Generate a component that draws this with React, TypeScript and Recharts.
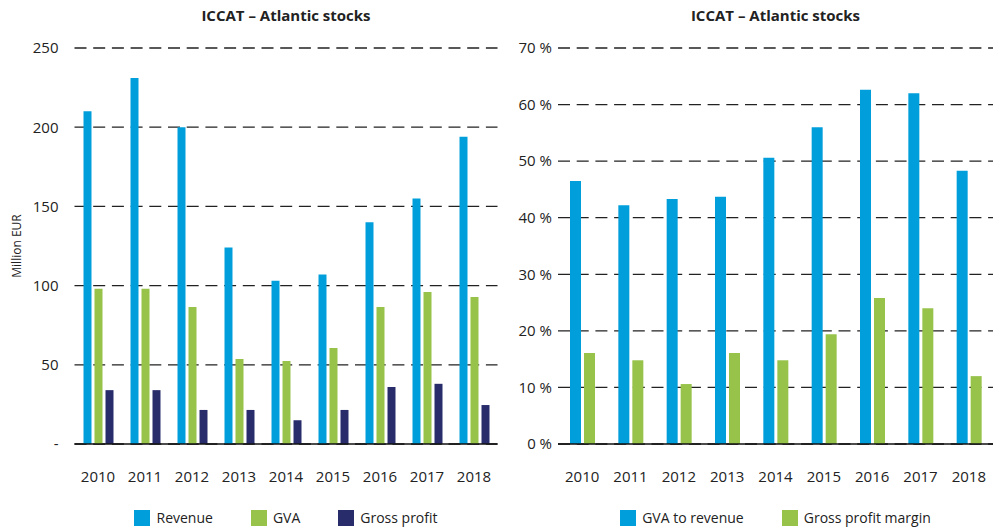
import React from "react";
import { Bar, BarChart, CartesianGrid, XAxis, YAxis } from "recharts";

const years = ["2010", "2011", "2012", "2013", "2014", "2015", "2016", "2017", "2018"];
const revenue = [210, 231, 200, 124, 103, 107, 140, 155, 194];
const gva = [98, 98, 86.5, 53.7, 52.4, 60.6, 86.5, 96, 92.8];
const grossProfit = [34, 34, 21.5, 21.5, 15, 21.5, 36, 38, 24.6];
const gvaToRevenue = [46.5, 42.2, 43.3, 43.7, 50.6, 56.0, 62.6, 62.0, 48.3];
const grossProfitMargin = [16.1, 14.8, 10.6, 16.1, 14.8, 19.4, 25.8, 24.0, 12.0];
const eurTicks = [0, 50, 100, 150, 200, 250];
const pctTicks = [0, 10, 20, 30, 40, 50, 60, 70];

const BLUE = "#009fdb";
const GREEN = "#97c34b";
const NAVY = "#282c6b";
const FONT = "'Open Sans', 'DejaVu Sans', sans-serif";

const leftData = years.map((y, i) => ({
  year: y,
  revenue: revenue[i],
  gva: gva[i],
  grossProfit: grossProfit[i],
}));
const rightData = years.map((y, i) => ({
  year: y,
  gvaToRevenue: gvaToRevenue[i],
  grossProfitMargin: grossProfitMargin[i],
}));

const leftSeries = [
  { key: "revenue", name: "Revenue", color: BLUE },
  { key: "gva", name: "GVA", color: GREEN },
  { key: "grossProfit", name: "Gross profit", color: NAVY },
];
const rightSeries = [
  { key: "gvaToRevenue", name: "GVA to revenue", color: BLUE },
  { key: "grossProfitMargin", name: "Gross profit margin", color: GREEN },
];

const tickStyle = { fill: "#222", fontSize: 15, fontFamily: FONT };

function SquareLegend({ items, left, width }: { items: typeof leftSeries; left: number; width: number }) {
  return (
    <div
      style={{
        position: "absolute",
        left,
        width,
        top: 508,
        display: "flex",
        justifyContent: "center",
        fontFamily: FONT,
        fontSize: 14,
        color: "#222",
      }}
    >
      {items.map((p, i) => (
        <div key={p.key} style={{ display: "flex", alignItems: "center", marginLeft: i ? 38 : 0 }}>
          <span style={{ width: 16, height: 16, background: p.color, display: "inline-block", marginRight: 6 }} />
          <span>{p.name}</span>
        </div>
      ))}
    </div>
  );
}

function Title({ left, width }: { left: number; width: number }) {
  return (
    <div
      style={{
        position: "absolute",
        left,
        top: 5,
        width,
        textAlign: "center",
        fontFamily: FONT,
        fontWeight: 700,
        fontSize: 15,
        color: "#222",
      }}
    >
      ICCAT – Atlantic stocks
    </div>
  );
}

export default function App() {
  return (
    <div style={{ position: "absolute", left: 0, top: 0, width: 995, height: 528, background: "#fff" }}>
      <Title left={74} width={424} />
      <Title left={558} width={435} />
      <div style={{ position: "absolute", left: 0, top: 0 }}>
        <BarChart
          width={500}
          height={528}
          data={leftData}
          margin={{ top: 48, right: 2.5, left: 0, bottom: 54 }}
          barSize={8}
          barGap={3}
        >
          <CartesianGrid vertical={false} stroke="#222" strokeWidth={1.3} strokeDasharray="12 6.7" />
          <XAxis
            dataKey="year"
            tickLine={false}
            axisLine={{ stroke: "#111", strokeWidth: 1.5 }}
            tick={tickStyle}
            tickMargin={21}
            interval={0}
          />
          <YAxis
            width={74.5}
            domain={[0, 250]}
            ticks={eurTicks}
            tickFormatter={(v: number) => (v === 0 ? "-" : String(v))}
            axisLine={false}
            tickLine={false}
            tick={tickStyle}
            tickMargin={10}
            label={{
              value: "Million EUR",
              angle: -90,
              position: "insideLeft",
              dx: 12,
              style: { fill: "#222", fontSize: 12, fontFamily: FONT, textAnchor: "middle" },
            }}
          />
          {leftSeries.map((s) => (
            <Bar key={s.key} dataKey={s.key} name={s.name} fill={s.color} isAnimationActive={false} />
          ))}
        </BarChart>
      </div>
      <div style={{ position: "absolute", left: 500, top: 0 }}>
        <BarChart
          width={495}
          height={528}
          data={rightData}
          margin={{ top: 48, right: 2, left: 0, bottom: 54 }}
          barSize={11}
          barGap={3}
        >
          <CartesianGrid vertical={false} stroke="#222" strokeWidth={1.3} strokeDasharray="12 6.7" />
          <XAxis
            dataKey="year"
            tickLine={false}
            axisLine={{ stroke: "#111", strokeWidth: 1.5 }}
            tick={tickStyle}
            tickMargin={21}
            interval={0}
          />
          <YAxis
            width={58}
            domain={[0, 70]}
            ticks={pctTicks}
            tickFormatter={(v: number) => `${v} %`}
            axisLine={false}
            tickLine={false}
            tick={tickStyle}
            tickMargin={0}
          />
          {rightSeries.map((s) => (
            <Bar key={s.key} dataKey={s.key} name={s.name} fill={s.color} isAnimationActive={false} />
          ))}
        </BarChart>
      </div>
      <SquareLegend items={leftSeries} left={74} width={424} />
      <SquareLegend items={rightSeries} left={558} width={435} />
    </div>
  );
}
